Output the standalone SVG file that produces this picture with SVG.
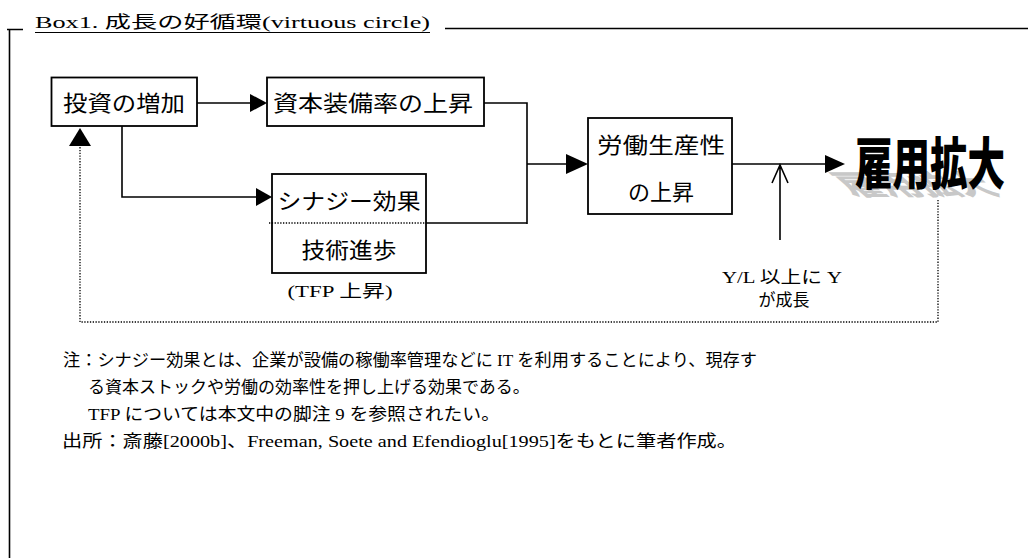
<svg xmlns="http://www.w3.org/2000/svg" width="1028" height="558" viewBox="0 0 1028 558">
<style>
.bx{fill:#fff;stroke:#000;stroke-width:1.8}
.ln{fill:none;stroke:#000;stroke-width:1.6}
.dt{fill:none;stroke:#000;stroke-width:1.3;stroke-dasharray:1.3 1.5}
.ah{fill:#000;stroke:none}
.g{font-family:"Noto Sans CJK JP","Noto Sans",sans-serif;font-size:22px;fill:#000}
.s{font-family:"Liberation Serif","Noto Sans CJK JP",serif;font-size:17px;fill:#000}
</style>
<rect width="1028" height="558" fill="#fff"/>
<g id="frame">
<path class="ln" d="M7 29.5H23M9.5 29V558M445 28.5H1028"/>
<text class="s" x="35" y="28" font-size="21" textLength="395" lengthAdjust="spacingAndGlyphs">Box1. 成長の好循環(virtuous circle)</text>
<path d="M35 32.5H430" stroke="#000" stroke-width="1.2"/>
</g>
<g id="connectors">
<path class="ln" d="M197 103H251"/>
<polygon class="ah" points="250,94 267,103 250,112"/>
<path class="ln" d="M484 103H527V224M426 223H527M527 164H567"/>
<polygon class="ah" points="566,154 588,164 566,174"/>
<path class="ln" d="M122 126V197H257"/>
<polygon class="ah" points="256,188 272,197 256,206"/>
<path class="ln" d="M732 164H826"/>
<polygon class="ah" points="825,155 845,164 825,173"/>
<path class="ln" d="M780 240V166M772 183L780 165L788 183"/>
<path class="dt" d="M938 200V322H80V146"/>
<polygon class="ah" points="80,128 91,146 69,146"/>
</g>
<g id="n-invest">
<rect class="bx" x="51.5" y="77.5" width="145.5" height="48.5"/>
<text class="g" x="124" y="111" text-anchor="middle" textLength="122" lengthAdjust="spacingAndGlyphs">投資の増加</text>
</g>
<g id="n-capital">
<rect class="bx" x="267" y="77.5" width="217" height="48.5"/>
<text class="g" x="373" y="111" text-anchor="middle" textLength="200" lengthAdjust="spacingAndGlyphs">資本装備率の上昇</text>
</g>
<g id="n-synergy">
<rect class="bx" x="272" y="174" width="154" height="99"/>
<path class="dt" d="M269 223H426"/>
<text class="g" x="349" y="209" text-anchor="middle" textLength="143" lengthAdjust="spacingAndGlyphs">シナジー効果</text>
<text class="g" x="349" y="258" text-anchor="middle" textLength="95" lengthAdjust="spacingAndGlyphs">技術進歩</text>
<text class="s" x="340" y="297" text-anchor="middle" textLength="105" lengthAdjust="spacingAndGlyphs">(TFP 上昇)</text>
</g>
<g id="n-labor">
<rect class="bx" x="588" y="118" width="144" height="96"/>
<text class="g" x="661" y="153" text-anchor="middle" textLength="128" lengthAdjust="spacingAndGlyphs">労働生産性</text>
<text class="g" x="661" y="200" text-anchor="middle">の上昇</text>
</g>
<g id="n-employment">
<text x="0" y="0" transform="translate(852,195) scale(1,0.5) skewX(30)" font-family="Noto Sans CJK JP,sans-serif" font-weight="900" font-size="56" fill="#c8c8c8" textLength="150" lengthAdjust="spacingAndGlyphs">雇用拡大</text>
<text x="855" y="184" font-family="Noto Sans CJK JP,sans-serif" font-weight="900" font-size="56" fill="#000" textLength="150" lengthAdjust="spacingAndGlyphs">雇用拡大</text>
</g>
<g id="n-yl">
<text class="s" x="782" y="283" text-anchor="middle" textLength="120" lengthAdjust="spacingAndGlyphs">Y/L 以上に Y</text>
<text class="s" x="784" y="306" text-anchor="middle">が成長</text>
</g>
<g id="notes">
<text class="s" x="63" y="366" textLength="694" lengthAdjust="spacingAndGlyphs">注：シナジー効果とは、企業が設備の稼働率管理などに IT を利用することにより、現存す</text>
<text class="s" x="88" y="393">る資本ストックや労働の効率性を押し上げる効果である。</text>
<text class="s" x="88" y="420" textLength="412" lengthAdjust="spacingAndGlyphs">TFP については本文中の脚注 9 を参照されたい。</text>
<text class="s" x="62" y="447" textLength="675" lengthAdjust="spacingAndGlyphs">出所：斎藤[2000b]、Freeman, Soete and Efendioglu[1995]をもとに筆者作成。</text>
</g>
</svg>
